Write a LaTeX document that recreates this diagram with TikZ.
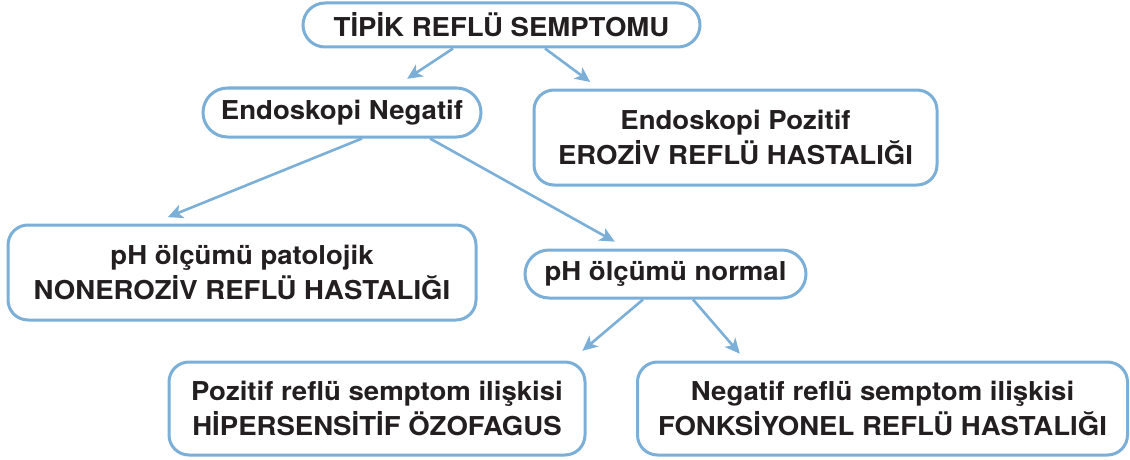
\documentclass[tikz,border=0pt]{standalone}
\usepackage{fontspec}
\setmainfont[FakeStretch=1.06]{TeX Gyre Heros}
\usepackage{xcolor}
\usepackage{tikz}
\usetikzlibrary{arrows.meta,shapes.misc}
\definecolor{rBlue}{RGB}{123,175,215}
\definecolor{rInk}{RGB}{35,31,32}
\tikzset{
pillbox/.style={rounded rectangle,draw=rBlue,line width=3pt,fill=white,inner sep=0pt,align=center,text=rInk,font=\fontsize{26}{35}\selectfont\bfseries},
infobox/.style={rectangle,rounded corners=20pt,draw=rBlue,line width=3pt,fill=white,inner sep=0pt,align=center,text=rInk,font=\fontsize{26}{35}\selectfont\bfseries},
arrow/.style={-{Stealth[length=15pt,width=14pt,inset=4pt]},line width=2.6pt,draw=rBlue}
}
\begin{document}
\begin{tikzpicture}[x=1pt,y=-1pt]
\useasboundingbox (0,0) rectangle (1130,460);
\node[pillbox,minimum width=397pt,minimum height=44pt] (top) at (501.5,25) {TİPİK REFLÜ SEMPTOMU};
\node[pillbox,minimum width=278pt,minimum height=49pt] (endoneg) at (342,112.5) {Endoskopi Negatif};
\node[infobox,minimum width=403pt,minimum height=95pt] (endopoz) at (735.5,137.5) {Endoskopi Pozitif\\EROZİV REFLÜ HASTALIĞI};
\node[infobox,minimum width=468pt,minimum height=95pt] (phpat) at (242,272.5) {pH ölçümü patolojik\\NONEROZİV REFLÜ HASTALIĞI};
\node[pillbox,minimum width=281pt,minimum height=48pt] (phnorm) at (665.5,274) {pH ölçümü normal};
\node[infobox,minimum width=416pt,minimum height=93pt] (pozrel) at (377,408.5) {Pozitif reflü semptom ilişkisi\\HİPERSENSİTİF ÖZOFAGUS};
\node[infobox,minimum width=490pt,minimum height=93pt] (negrel) at (882.5,408.5) {Negatif reflü semptom ilişkisi\\FONKSİYONEL REFLÜ HASTALIĞI};
% connectors
\draw[arrow,shorten >=14pt] ([xshift=-48.5pt]top.south) -- ([xshift=53.5pt]endoneg.north);
\draw[arrow,shorten >=11pt] ([xshift=43.5pt]top.south) -- ([xshift=-136.5pt]endopoz.north);
\draw[arrow,shorten >=17pt] ([xshift=20pt]endoneg.south) -- ([xshift=-90pt]phpat.north);
\draw[arrow,shorten >=14pt] ([xshift=88pt]endoneg.south) -- ([xshift=-38.5pt]phnorm.north);
\draw[arrow,shorten >=15pt] ([xshift=-22.5pt]phnorm.south) -- ([xshift=194pt]pozrel.north);
\draw[arrow,shorten >=9pt] ([xshift=27.5pt]phnorm.south) -- ([xshift=-136.8pt]negrel.north);
\end{tikzpicture}
\end{document}
